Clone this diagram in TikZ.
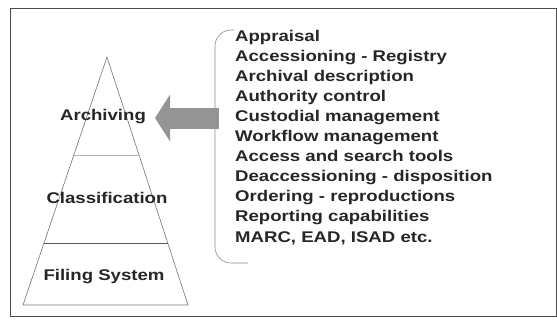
\documentclass[tikz,border=0pt]{standalone}
\usepackage{fontspec}
\newfontfamily\diagfont{Liberation Sans}[FakeStretch=1.2]
\usetikzlibrary{arrows.meta,calc}

\tikzset{
  label/.style={font=\diagfont\bfseries\fontsize{15.5}{18}\selectfont, text=black!85, inner sep=0pt},
  item/.style={label, anchor=base west},
  level/.style={black!55, line width=0.6pt},
  bigarrow/.style={line width=21pt, black!42, -{Triangle[length=15pt,width=46pt]}}
}

\begin{document}
\begin{tikzpicture}[x=1pt, y=-1pt]
  \useasboundingbox (0,0) rectangle (557,325);

  % outer frame
  \draw[black!70, line width=0.8pt] (10,8) rectangle (556,316);

  % pyramid
  \coordinate (apex) at (107,57);
  \coordinate (baseL) at (23,305);
  \coordinate (baseR) at (188,305);
  \draw[level] (apex) -- (baseL) -- (baseR) -- cycle;
  \draw[black!30, line width=0.8pt] ($(apex)!0.395!(baseL)$) -- ($(apex)!0.395!(baseR)$);
  \draw[black!65, line width=0.7pt] ($(apex)!0.75!(baseL)$) -- ($(apex)!0.75!(baseR)$);

  \node[label] (arch) at (103,117) {Archiving};
  \node[label] (class) at (107,198) {Classification};
  \node[label] (filing) at (104,277) {Filing System};

  % functions list
  \foreach \t [count=\k from 0] in {Appraisal, Accessioning - Registry, Archival description,
      Authority control, Custodial management, Workflow management, Access and search tools,
      Deaccessioning - disposition, Ordering - reproductions, Reporting capabilities,
      {MARC, EAD, ISAD etc.}}
    \node[item] (item\k) at (235, 41+20.1*\k) {\t};

  % bracket
  \draw[black!45, line width=0.6pt, rounded corners=16pt] (234,30) -| (215,263) -- (248,263);

  % arrow
  \coordinate (tail) at (219,118);
  \coordinate (tip) at (155,118);
  \draw[bigarrow] (tail) -- (tip);
\end{tikzpicture}
\end{document}
